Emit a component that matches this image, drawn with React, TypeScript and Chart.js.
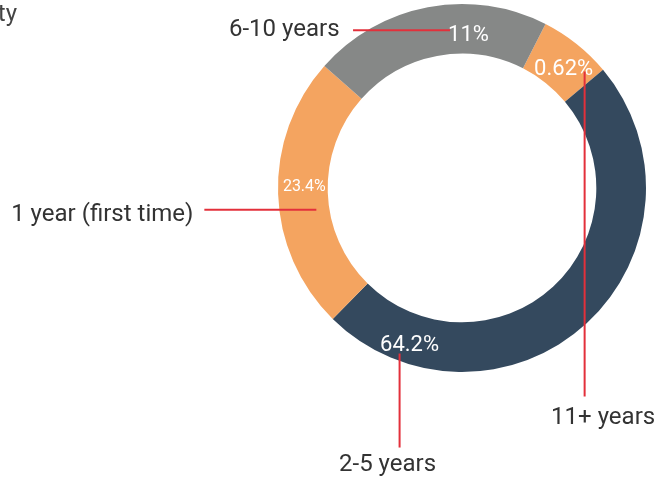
import React, { useEffect, useRef } from "react";
import { Chart, registerables } from "chart.js";

Chart.register(...registerables);

// Slices in drawing order, clockwise from the small wedge near the top
const sliceLabels = ["11+ years", "2-5 years", "1 year (first time)", "6-10 years"];
const sliceShares = [6.4, 48.5, 24.15, 20.95];
const percentLabels = ["0.62%", "64.2%", "23.4%", "11%"];
const sliceColors = ["#f4a460", "#34495e", "#f4a460", "#868887"];

// Label placement (styling, not data): position along / across each arc, leader line & outer text offsets
const placement = [
  { along: 0.57, across: 0.47, size: 22, line: [21, 4, 21, 329], text: [39.5, 357], align: "center" },
  { along: 0.851, across: 0.6, size: 22, line: [-10, 10, -10, 104], text: [-22, 127], align: "center" },
  { along: 0.531, across: 0.47, size: 16, line: [12, 24, -100, 24], text: [-111, 35], align: "right" },
  { along: 0.674, across: 0.425, size: 22, line: [-18.5, -2.5, -115.5, -2.5], text: [-129, 3.5], align: "right" },
];

const labelPlugin = {
  id: "sliceLabels",
  afterDatasetsDraw(chart: any) {
    const ctx = chart.ctx;
    const meta = chart.getDatasetMeta(0);
    ctx.save();
    meta.data.forEach((arc: any, i: number) => {
      const { x, y, startAngle, endAngle, innerRadius, outerRadius } = arc.getProps(
        ["x", "y", "startAngle", "endAngle", "innerRadius", "outerRadius"],
        true
      );
      const pl = placement[i];
      const a = startAngle + pl.along * (endAngle - startAngle);
      const r = innerRadius + pl.across * (outerRadius - innerRadius);
      const cx = x + r * Math.cos(a);
      const cy = y + r * Math.sin(a);
      ctx.font = `${pl.size}px Roboto`;
      ctx.fillStyle = "#ffffff";
      ctx.textAlign = "center";
      ctx.textBaseline = "alphabetic";
      ctx.fillText(percentLabels[i], cx, cy + 0.355 * pl.size);

      ctx.strokeStyle = "#e3303b";
      ctx.lineWidth = 2;
      ctx.beginPath();
      ctx.moveTo(cx + pl.line[0], cy + pl.line[1]);
      ctx.lineTo(cx + pl.line[2], cy + pl.line[3]);
      ctx.stroke();

      ctx.font = "24px Roboto";
      ctx.fillStyle = "#333333";
      ctx.textAlign = pl.align as CanvasTextAlign;
      ctx.fillText(sliceLabels[i], cx + pl.text[0], cy + pl.text[1]);
    });
    // clipped title remnant at top-left
    ctx.font = "24px Roboto";
    ctx.fillStyle = "#444444";
    ctx.textAlign = "right";
    ctx.fillText("ty", 17, 21);
    ctx.restore();
  },
};

export default function App() {
  const ref = useRef<HTMLCanvasElement>(null);
  useEffect(() => {
    if (!ref.current) return;
    const chart = new Chart(ref.current, {
      type: "doughnut",
      data: {
        labels: sliceLabels,
        datasets: [
          {
            data: sliceShares,
            backgroundColor: sliceColors,
            borderWidth: 0,
          },
        ],
      },
      options: {
        responsive: false,
        animation: false,
        rotation: 27,
        cutout: "73%",
        layout: { padding: { left: 278, right: 11, top: 4, bottom: 105 } },
        plugins: {
          legend: { display: false },
          tooltip: { enabled: false },
          title: { display: false },
        },
      },
      plugins: [labelPlugin],
    });
    return () => chart.destroy();
  }, []);
  return (
    <div style={{ position: "fixed", left: 0, top: 0, width: 657, height: 477, background: "#fff" }}>
      <canvas ref={ref} width={657} height={477} style={{ display: "block" }} />
    </div>
  );
}
